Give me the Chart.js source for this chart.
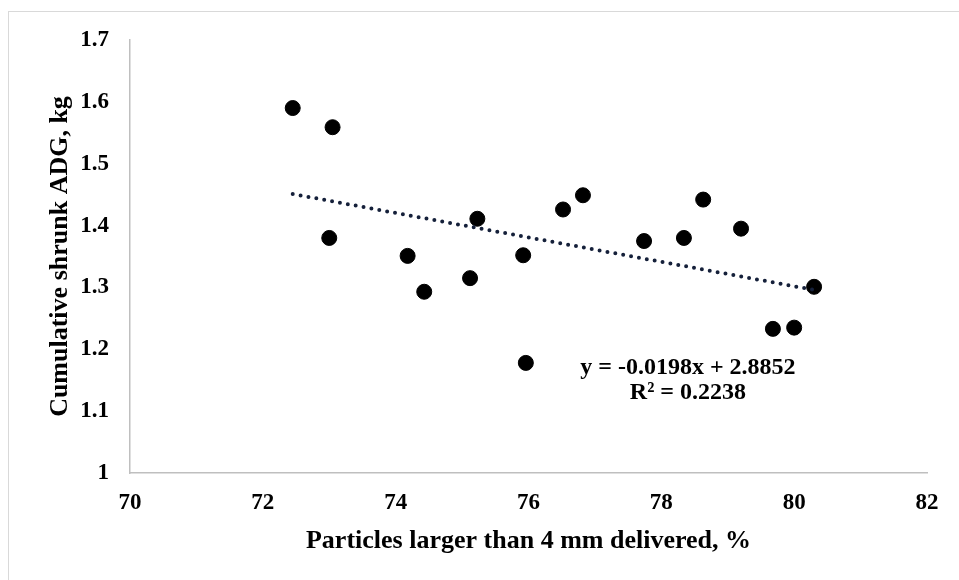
<!DOCTYPE html>
<html>
<head>
<meta charset="utf-8">
<script src="https://cdn.jsdelivr.net/npm/chart.js@4"></script>
<style>
  html, body { margin: 0; padding: 0; background: #fff; overflow: hidden; }
  #wrap { position: relative; width: 959px; height: 580px; }
  #frame { position: absolute; left: 8px; top: 11px; width: 980px; height: 620px; border: 1px solid #d9d9d9; box-sizing: border-box; }
  canvas { position: absolute; left: 0; top: 0; }
</style>
</head>
<body>
<div id="wrap">
  <div id="frame"></div>
  <canvas id="c" width="959" height="580"></canvas>
</div>
<script>
// particles > 4 mm delivered (%) vs cumulative shrunk ADG (kg)
const particulas = [72.45, 73.05, 73.0, 74.18, 74.43, 75.12, 75.23, 75.92, 75.96, 76.52, 76.82, 77.74, 78.34, 78.63, 79.2, 79.68, 80.0, 80.3];
const gmd = [1.590, 1.559, 1.380, 1.351, 1.293, 1.315, 1.411, 1.352, 1.178, 1.426, 1.449, 1.375, 1.380, 1.442, 1.395, 1.233, 1.235, 1.301];

// linha de tendência (pontos extremos)
const tendX = [72.45, 80.3];
const tendY = [1.451, 1.296];

const xTicks = [70, 72, 74, 76, 78, 80, 82];
const yTicks = [1, 1.1, 1.2, 1.3, 1.4, 1.5, 1.6, 1.7];
const yTickLabels = ['1', '1.1', '1.2', '1.3', '1.4', '1.5', '1.6', '1.7'];

const equacao = ['y = -0.0198x + 2.8852', 'R² = 0.2238'];
const equacaoPos = { x: 78.4, y: [1.170, 1.129] };

const serif = "'Liberation Serif', 'Times New Roman', serif";

// texto da equação, colocado pelas escalas
const equacaoPlugin = {
    id: 'equacao',
    afterDatasetsDraw(chart) {
        const { ctx, scales } = chart;
        ctx.save();
        ctx.font = 'bold 24px ' + serif;
        ctx.fillStyle = '#000';
        ctx.textAlign = 'center';
        ctx.textBaseline = 'middle';
        equacao.forEach((t, i) => {
            ctx.fillText(t, scales.x.getPixelForValue(equacaoPos.x), scales.y.getPixelForValue(equacaoPos.y[i]));
        });
        ctx.restore();
    },
};

new Chart(document.getElementById('c'), {
    type: 'scatter',
    data: {
        datasets: [
            {
                label: 'Linear',
                data: tendX.map((x, i) => ({ x, y: tendY[i] })),
                showLine: true,
                borderColor: '#15203a',
                borderWidth: 4,
                borderDash: [0, 8],
                borderCapStyle: 'round',
                pointRadius: 0,
                order: 0,
            },
            {
                label: 'ADG',
                data: particulas.map((x, i) => ({ x, y: gmd[i] })),
                backgroundColor: '#000',
                borderColor: '#000',
                pointRadius: 7.5,
                pointHoverRadius: 7.5,
                order: 1,
            },
        ],
    },
    options: {
        responsive: false,
        animation: false,
        events: [],
        layout: { padding: { left: 0, right: 32, top: 40, bottom: 0 } },
        plugins: { legend: { display: false }, tooltip: { enabled: false } },
        scales: {
            x: {
                type: 'linear', min: 70, max: 82,
                afterBuildTicks: (s) => { s.ticks = xTicks.map((v) => ({ value: v })); },
                afterFit: (s) => { s.height = 107; },
                grid: { display: false, drawTicks: false },
                border: { color: '#bfbfbf', width: 1.5 },
                ticks: { color: '#000', padding: 16, font: { family: serif, size: 23, weight: 'bold' } },
                title: {
                    display: true, text: 'Particles larger than 4 mm delivered, %', color: '#000',
                    font: { family: serif, size: 26, weight: 'bold' }, padding: { top: 0, bottom: 23 },
                },
            },
            y: {
                type: 'linear', min: 1, max: 1.7,
                afterBuildTicks: (s) => { s.ticks = yTicks.map((v) => ({ value: v })); },
                afterFit: (s) => { s.width = 130; },
                grid: { display: false, drawTicks: false },
                border: { color: '#bfbfbf', width: 1.5 },
                ticks: {
                    color: '#000', padding: 21, font: { family: serif, size: 23, weight: 'bold' },
                    callback: (v, i) => yTickLabels[i],
                },
                title: {
                    display: true, text: 'Cumulative shrunk ADG, kg', color: '#000',
                    font: { family: serif, size: 26, weight: 'bold' }, padding: { top: 45, bottom: 0 },
                },
            },
        },
    },
    plugins: [equacaoPlugin],
});
</script>
</body>
</html>
